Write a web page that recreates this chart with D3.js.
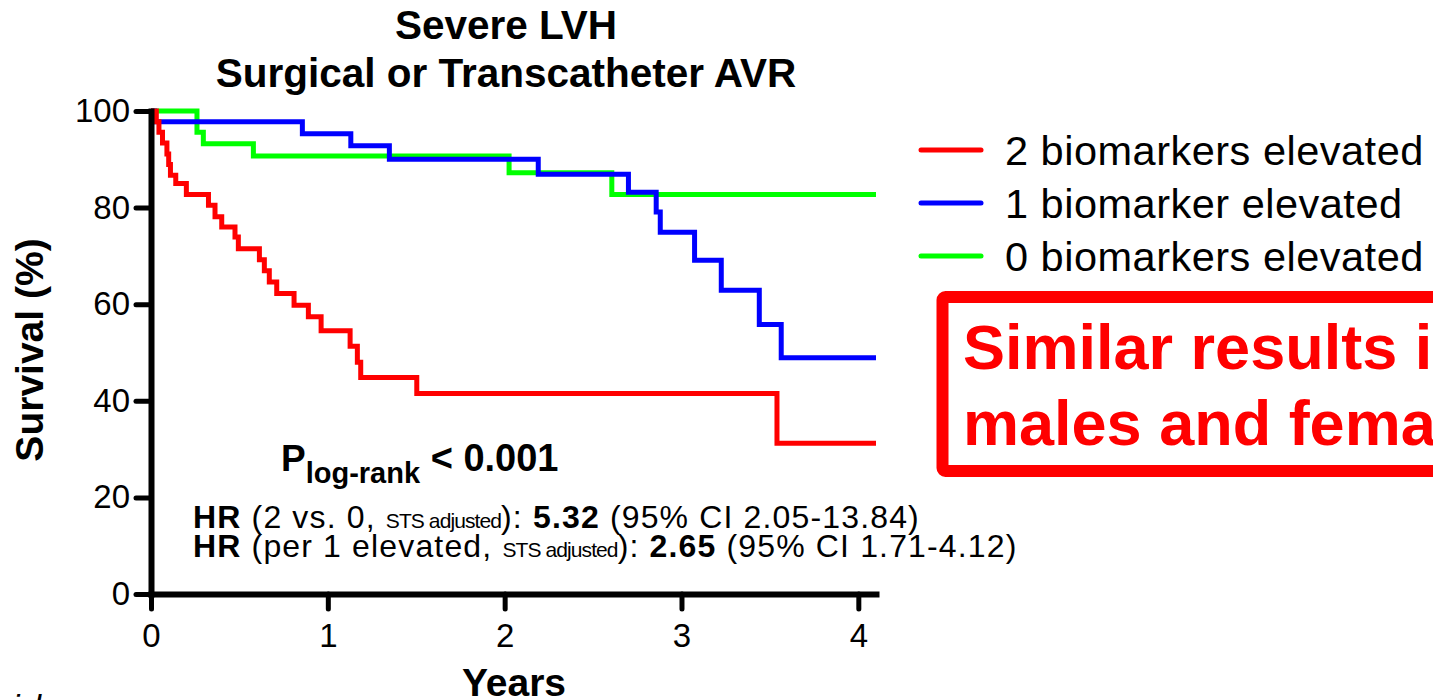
<!DOCTYPE html>
<html>
<head>
<meta charset="utf-8">
<script src="https://cdn.jsdelivr.net/npm/d3@7"></script>
<style>
  body { margin: 0; background: #fff; }
  svg { display: block; font-family: "Liberation Sans", Arial, sans-serif; }
</style>
</head>
<body>
<div id="km"></div>
<script>

// Kaplan-Meier survival curves, severe LVH

// Set dimensions and margins for plot
const width = 1433;
const height = 700;
const margin = {left:151, right:557, bottom:106, top:111};

// Data (years, survival %)
const redTimes = [0, 0.03, 0.045, 0.065, 0.09, 0.10, 0.11, 0.14, 0.20, 0.325, 0.362, 0.40, 0.475, 0.494,
                  0.613, 0.641, 0.669, 0.711, 0.809, 0.89, 0.962, 1.126, 1.167, 1.186, 1.503, 3.54, 4.1];
const redSurv  = [100, 97.8, 95.6, 93.4, 91.1, 88.9, 86.7, 85.0, 82.7, 80.5, 78.1, 76.0, 73.9, 71.5,
                  69.2, 66.9, 64.6, 62.2, 59.8, 57.4, 54.5, 51.3, 48.0, 44.8, 41.5, 31.2, 31.2];

const blueTimes = [0, 0.02, 0.856, 1.13, 1.348, 2.19, 2.70, 2.857, 2.88, 3.074, 3.225, 3.44, 3.564, 4.1];
const blueSurv  = [100, 97.8, 95.3, 92.8, 90.0, 86.9, 83.2, 79.1, 74.9, 69.1, 62.9, 55.8, 48.9, 48.9];

const greenTimes = [0, 0.26, 0.296, 0.579, 2.025, 2.606, 4.1];
const greenSurv  = [100, 95.6, 93.2, 90.7, 87.2, 82.7, 82.7];

const xTicks = [0, 1, 2, 3, 4];
const yTicks = [0, 20, 40, 60, 80, 100];

const legendLabels = ["2 biomarkers elevated", "1 biomarker elevated", "0 biomarkers elevated"];
const legendColors = ["#ff0000", "#0000ff", "#00ff00"];

const titleLines = ["Severe LVH", "Surgical or Transcatheter AVR"];
const boxLines = ["Similar results in", "males and females"];

// Builds the svg
const svg = d3
  .select("#km")
  .append("svg")
  .attr("width", width)
  .attr("height", height)
  .attr("viewBox", [0, 0, width, height]);

svg.append("rect")
   .attr("width", width)
   .attr("height", height)
   .attr("fill", "#fff");

// Scales
let xScale = d3.scaleLinear()
            .domain([0, 4.1])
            .range([margin.left, width - margin.right]);

let yScale = d3.scaleLinear()
            .domain([0, 100])
            .range([height - margin.bottom, margin.top]);

// Title
svg.append("g")
   .selectAll("text")
   .data(titleLines)
   .enter()
   .append("text")
     .attr("x", 506)
     .attr("y", (d, i) => 39 + i * 48)
     .attr("text-anchor", "middle")
     .attr("font-weight", "bold")
     .attr("font-size", "40.5px")
     .text(d => d);

// Curves (drawn as steps)
const line = d3.line()
    .x(d => xScale(d[0]))
    .y(d => yScale(d[1]))
    .curve(d3.curveStepAfter);

const series = [
  {times: greenTimes, surv: greenSurv, color: "#00ff00"},
  {times: blueTimes, surv: blueSurv, color: "#0000ff"},
  {times: redTimes, surv: redSurv, color: "#ff0000"}
];

svg.selectAll(".curve")
   .data(series)
   .enter()
   .append("path")
     .attr("class", "curve")
     .attr("d", s => line(s.times.map((t, i) => [t, s.surv[i]])))
     .attr("fill", "none")
     .attr("stroke", s => s.color)
     .attr("stroke-width", 5)
     .attr("stroke-linejoin", "miter")
     .attr("stroke-linecap", "butt");

// Y axis
const yAxis = svg.append("g")
   .attr("transform", `translate(${margin.left}, 0)`)
   .call(d3.axisLeft(yScale)
           .tickValues(yTicks)
           .tickFormat(d3.format("d"))
           .tickSize(15)
           .tickSizeOuter(0)
           .tickPadding(6));

// X axis
const xAxis = svg.append("g")
   .attr("transform", `translate(0, ${height - margin.bottom})`)
   .call(d3.axisBottom(xScale)
           .tickValues(xTicks)
           .tickFormat(d3.format("d"))
           .tickSize(15)
           .tickSizeOuter(0)
           .tickPadding(15));

[yAxis, xAxis].forEach(ax => {
  ax.select(".domain")
    .attr("stroke", "#000")
    .attr("stroke-width", 6)
    .attr("stroke-linecap", "square");
  ax.selectAll(".tick line")
    .attr("stroke", "#000")
    .attr("stroke-width", 5)
    .attr("stroke-linecap", "round");
  ax.selectAll(".tick text")
    .attr("fill", "#000")
    .attr("font-family", "Liberation Sans, Arial, sans-serif")
    .attr("font-size", "33px");
});

// Axis titles
svg.append("text")
   .attr("transform", "translate(43, 350) rotate(-90)")
   .attr("text-anchor", "middle")
   .attr("font-weight", "bold")
   .attr("font-size", "39px")
   .text("Survival (%)");

svg.append("text")
   .attr("x", 514)
   .attr("y", 696)
   .attr("text-anchor", "middle")
   .attr("font-weight", "bold")
   .attr("font-size", "39px")
   .text("Years");

// Legend
const legend = svg.append("g")
   .selectAll("g")
   .data(legendLabels)
   .enter()
   .append("g")
     .attr("transform", (d, i) => `translate(921, ${150 + i * 53})`);

legend.append("line")
   .attr("x1", 0)
   .attr("x2", 60)
   .attr("stroke", (d, i) => legendColors[i])
   .attr("stroke-width", 5)
   .attr("stroke-linecap", "round");

legend.append("text")
   .attr("x", 84)
   .attr("y", 15)
   .attr("font-size", "41.5px")
   .attr("letter-spacing", "0.5px")
   .text(d => d);

// Log-rank p value
const pText = svg.append("text")
   .attr("x", 281)
   .attr("y", 471)
   .attr("font-weight", "bold");
pText.append("tspan").attr("font-size", "37px").text("P");
pText.append("tspan").attr("font-size", "29px").attr("dy", 12).text("log-rank");
pText.append("tspan").attr("font-size", "38px").attr("dy", -12).text(" < 0.001");

// Hazard ratio lines
const hrLines = [
  [["HR", "bold", 32], [" (2 vs. 0, ", "normal", 32], ["STS adjusted", "normal", 21], ["): ", "normal", 32],
   ["5.32", "bold", 32], [" (95% CI 2.05-13.84)", "normal", 32]],
  [["HR", "bold", 32], [" (per 1 elevated, ", "normal", 32], ["STS adjusted", "normal", 21], ["): ", "normal", 32],
   ["2.65", "bold", 32], [" (95% CI 1.71-4.12)", "normal", 32]]
];

hrLines.forEach((parts, i) => {
  const t = svg.append("text")
     .attr("x", 193)
     .attr("y", 528 + i * 29)
     .attr("xml:space", "preserve");
  parts.forEach(p => {
    t.append("tspan")
     .attr("font-weight", p[1])
     .attr("font-size", p[2] + "px")
     .attr("letter-spacing", p[2] > 21 ? "1.15px" : "-0.9px")
     .text(p[0]);
  });
});

// Red call-out box
svg.append("rect")
   .attr("x", 942.5)
   .attr("y", 297)
   .attr("width", 620)
   .attr("height", 174)
   .attr("rx", 3)
   .attr("fill", "none")
   .attr("stroke", "#ff0000")
   .attr("stroke-width", 12);

svg.append("g")
   .selectAll("text")
   .data(boxLines)
   .enter()
   .append("text")
     .attr("x", 963)
     .attr("y", (d, i) => 369 + i * 76)
     .attr("fill", "#ff0000")
     .attr("font-weight", "bold")
     .attr("font-size", "63px")
     .text(d => d);

// Cut-off footnote at the bottom edge
svg.append("text")
   .attr("x", 12)
   .attr("y", 718)
   .attr("font-style", "italic")
   .attr("font-size", "34px")
   .attr("letter-spacing", "14px")
   .text("il");

</script>
</body>
</html>
